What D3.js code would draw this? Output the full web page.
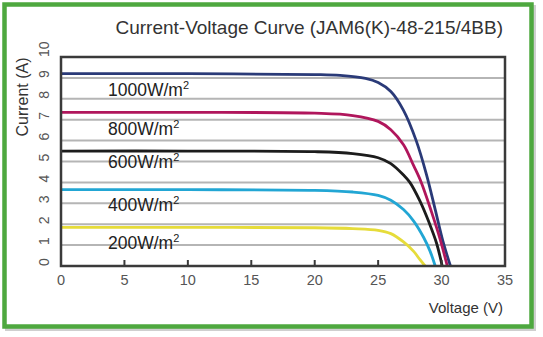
<!DOCTYPE html>
<html>
<head>
<meta charset="utf-8">
<script src="https://cdn.jsdelivr.net/npm/d3@7"></script>
<style>
  body { margin: 0; background: #fff; }
  text { font-family: "Liberation Sans", Arial, sans-serif; }
</style>
</head>
<body>
<svg width="543" height="337"></svg>
<script>
// values: [voltage, current]
const curve1000 = [[0, 9.2], [10, 9.2], [20, 9.16], [22, 9.12], [24, 8.98], [25, 8.78], [26, 8.35], [27, 7.45], [28, 6.0], [28.8, 4.4], [29.5, 2.7], [30.1, 1.2], [30.7, 0]];
const curve800 = [[0, 7.35], [10, 7.35], [20, 7.31], [23, 7.2], [25, 6.92], [26, 6.52], [27, 5.8], [27.8, 4.8], [28.4, 4.0], [29.2, 2.6], [29.9, 1.25], [30.45, 0]];
const curve600 = [[0, 5.5], [10, 5.5], [20, 5.47], [23, 5.38], [25, 5.18], [26, 4.9], [27, 4.35], [27.5, 4.0], [28.3, 3.1], [29, 2.1], [29.6, 1.1], [30.05, 0]];
const curve400 = [[0, 3.65], [10, 3.65], [20, 3.62], [23, 3.54], [25, 3.38], [26, 3.15], [27, 2.7], [27.8, 2.15], [28.6, 1.35], [29.1, 0.7], [29.5, 0]];
const curve200 = [[0, 1.85], [10, 1.85], [20, 1.83], [23, 1.79], [25, 1.71], [26, 1.55], [27, 1.15], [27.8, 0.7], [28.3, 0.3], [28.7, 0]];

const seriesNames = ["1000W/m", "800W/m", "600W/m", "400W/m", "200W/m"];
const seriesData = [curve1000, curve800, curve600, curve400, curve200];
const seriesColors = ["#2a3a78", "#b0165c", "#1c1c1c", "#22a6d4", "#e6dc3a"];
const labelCurrent = [8.13, 6.27, 4.69, 2.63, 0.81];

const xTicks = [0, 5, 10, 15, 20, 25, 30, 35];
const yTicks = [0, 1, 2, 3, 4, 5, 6, 7, 8, 9, 10];

let svg = d3.select("svg");

// green frame with a little shadow
svg.append("rect").attr("x", 7).attr("y", 7).attr("width", 527).attr("height", 322).style("fill", "none").style("stroke", "#cfcfcf").style("stroke-width", 4);
svg.append("rect").attr("x", 4.5).attr("y", 4.5).attr("width", 527).attr("height", 322).style("fill", "#fff").style("stroke", "#4ea83f").style("stroke-width", 4.5);

const plotLeft = 61, plotRight = 505, plotTop = 57, plotBottom = 266;
const x = d3.scaleLinear().domain([0, 35]).range([plotLeft, plotRight]);
const y = d3.scaleLinear().domain([0, 10]).range([plotBottom, plotTop]);

// gridlines
svg.append("g").selectAll("line").data(yTicks.filter(d => d > 0 && d < 10)).join("line")
  .attr("x1", plotLeft).attr("x2", plotRight)
  .attr("y1", d => y(d)).attr("y2", d => y(d))
  .style("stroke", "#b5b5b5").style("stroke-width", 2);

// curves
const lineGen = d3.line().x(d => x(d[0])).y(d => y(d[1])).curve(d3.curveCatmullRom.alpha(0.5));
seriesData.forEach((data, i) => {
  svg.append("path").attr("d", lineGen(data))
    .style("fill", "none").style("stroke", seriesColors[i]).style("stroke-width", 2.8);
});

// frame of the plot
svg.append("rect").attr("x", plotLeft).attr("y", plotTop).attr("width", plotRight - plotLeft).attr("height", plotBottom - plotTop)
  .style("fill", "none").style("stroke", "#3a3a3a").style("stroke-width", 2.5);

// x ticks (inside) and labels
const xAxis = svg.append("g");
xAxis.selectAll("line").data(xTicks.filter(d => d > 0 && d < 35)).join("line")
  .attr("x1", d => x(d)).attr("x2", d => x(d))
  .attr("y1", plotBottom).attr("y2", plotBottom - 6)
  .style("stroke", "#3a3a3a").style("stroke-width", 2);
xAxis.selectAll("text").data(xTicks).join("text")
  .attr("x", d => x(d)).attr("y", plotBottom + 19)
  .attr("text-anchor", "middle").style("font-size", "14.5px").style("fill", "#555")
  .text(d => d);

// y labels, rotated
svg.append("g").selectAll("text").data(yTicks).join("text")
  .attr("transform", d => `translate(49,${y(d)}) rotate(-90)`)
  .attr("text-anchor", "start").style("font-size", "14px").style("fill", "#555")
  .text(d => d);

svg.append("text").attr("transform", "translate(28,97) rotate(-90)")
  .attr("text-anchor", "middle").style("font-size", "16px").style("fill", "#333")
  .text("Current (A)");

svg.append("text").attr("x", 503).attr("y", 313)
  .attr("text-anchor", "end").style("font-size", "15px").style("fill", "#333")
  .text("Voltage (V)");

svg.append("text").attr("x", 503).attr("y", 34)
  .attr("text-anchor", "end").style("font-size", "19px").style("fill", "#333")
  .text("Current-Voltage Curve (JAM6(K)-48-215/4BB)");

// irradiance labels
seriesNames.forEach((name, i) => {
  let t = svg.append("text").attr("x", 108).attr("y", y(labelCurrent[i]))
    .style("font-size", "17.5px").style("fill", "#222").text(name);
  t.append("tspan").attr("dy", -7).style("font-size", "11px").text("2");
});
</script>
</body>
</html>
